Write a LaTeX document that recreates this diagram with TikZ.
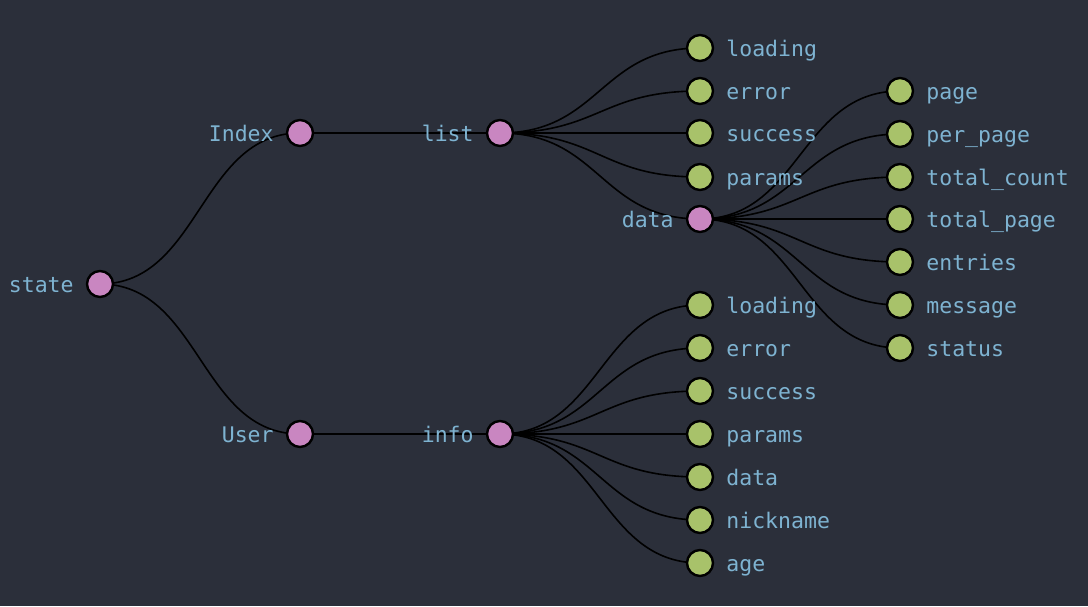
\documentclass[tikz,border=0pt]{standalone}
\usepackage{fontspec}
\setmonofont{DejaVu Sans Mono}
\usetikzlibrary{calc}
\pgfdeclarelayer{bg}
\pgfsetlayers{bg,main}
\definecolor{bgc}{HTML}{2B2F3A}
\definecolor{txt}{HTML}{7EB3D1}
\definecolor{pinkc}{HTML}{C986C1}
\definecolor{greenc}{HTML}{A8C26A}
\tikzset{
  x=1pt,y=-1pt,
  inner/.style={circle,draw=black,line width=2.4pt,fill=pinkc,minimum size=26pt,inner sep=0pt},
  leaf/.style={circle,draw=black,line width=2.4pt,fill=greenc,minimum size=26pt,inner sep=0pt},
  lab/.style={text=txt,font=\ttfamily\fontsize{21.5}{24}\selectfont,inner sep=0pt,yshift=-8.5pt},
  llab/.style={lab,anchor=base east,xshift=-12pt},
  rlab/.style={lab,anchor=base west,xshift=12pt},
  edge/.style={draw=black,line width=1.6pt},
}
\newcommand{\lnk}[2]{\draw[edge] (#1.center) .. controls ($(#1)!0.5!(#2|-#1)$) and ($(#2)!0.5!(#1|-#2)$) .. (#2.center);}
\begin{document}
\begin{tikzpicture}
\begin{pgfonlayer}{bg}
\fill[bgc] (0,0) rectangle (1088,606);
\end{pgfonlayer}
\useasboundingbox (0,0) rectangle (1088,606);
% inner nodes
\node[inner] (state) at (100,284) {};
\node[llab] at (state.west) {state};
\node[inner] (index) at (300,133) {};
\node[llab] at (index.west) {Index};
\node[inner] (user) at (300,434) {};
\node[llab] at (user.west) {User};
\node[inner] (list) at (500,133) {};
\node[llab] at (list.west) {list};
\node[inner] (info) at (500,434) {};
\node[llab] at (info.west) {info};
% list children
\node[leaf] (lload) at (700,48) {};
\node[rlab] at (lload.east) {loading};
\node[leaf] (lerr) at (700,91) {};
\node[rlab] at (lerr.east) {error};
\node[leaf] (lsucc) at (700,133) {};
\node[rlab] at (lsucc.east) {success};
\node[leaf] (lpar) at (700,177) {};
\node[rlab] at (lpar.east) {params};
\node[inner] (ldata) at (700,219) {};
\node[llab] at (ldata.west) {data};
% data children
\node[leaf] (dpage) at (900,91) {};
\node[rlab] at (dpage.east) {page};
\node[leaf] (dper) at (900,134) {};
\node[rlab] at (dper.east) {per\_page};
\node[leaf] (dtc) at (900,177) {};
\node[rlab] at (dtc.east) {total\_count};
\node[leaf] (dtp) at (900,219) {};
\node[rlab] at (dtp.east) {total\_page};
\node[leaf] (dent) at (900,262) {};
\node[rlab] at (dent.east) {entries};
\node[leaf] (dmsg) at (900,305) {};
\node[rlab] at (dmsg.east) {message};
\node[leaf] (dstat) at (900,348) {};
\node[rlab] at (dstat.east) {status};
% info children
\node[leaf] (iload) at (700,305) {};
\node[rlab] at (iload.east) {loading};
\node[leaf] (ierr) at (700,348) {};
\node[rlab] at (ierr.east) {error};
\node[leaf] (isucc) at (700,391) {};
\node[rlab] at (isucc.east) {success};
\node[leaf] (ipar) at (700,434) {};
\node[rlab] at (ipar.east) {params};
\node[leaf] (idata) at (700,477) {};
\node[rlab] at (idata.east) {data};
\node[leaf] (inick) at (700,520) {};
\node[rlab] at (inick.east) {nickname};
\node[leaf] (iage) at (700,563) {};
\node[rlab] at (iage.east) {age};
\begin{pgfonlayer}{bg}
\lnk{state}{index}
\lnk{state}{user}
\lnk{index}{list}
\lnk{user}{info}
\lnk{list}{lload}
\lnk{list}{lerr}
\lnk{list}{lsucc}
\lnk{list}{lpar}
\lnk{list}{ldata}
\lnk{ldata}{dpage}
\lnk{ldata}{dper}
\lnk{ldata}{dtc}
\lnk{ldata}{dtp}
\lnk{ldata}{dent}
\lnk{ldata}{dmsg}
\lnk{ldata}{dstat}
\lnk{info}{iload}
\lnk{info}{ierr}
\lnk{info}{isucc}
\lnk{info}{ipar}
\lnk{info}{idata}
\lnk{info}{inick}
\lnk{info}{iage}
\end{pgfonlayer}
\end{tikzpicture}
\end{document}
